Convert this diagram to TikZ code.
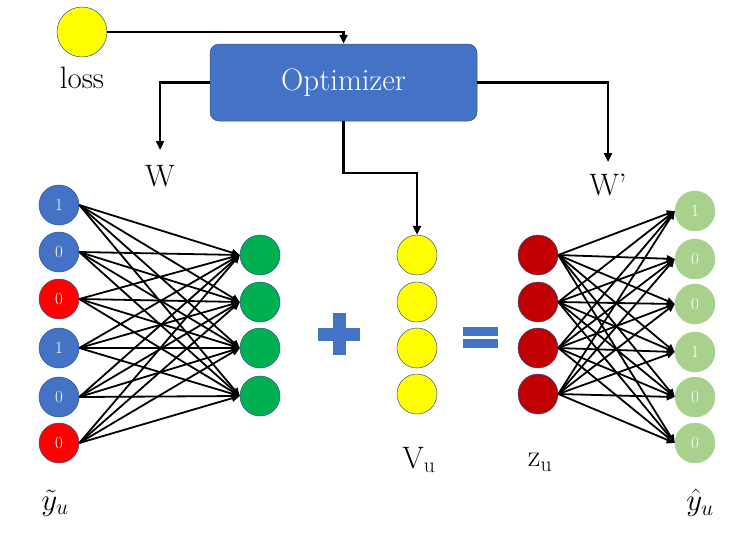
\RequirePackage{fix-cm}
\documentclass[tikz,border=0pt]{standalone}
\usepackage{xcolor}
\usepackage{tikz}
\usetikzlibrary{arrows.meta, positioning, calc}
\usepackage{amsmath}
\definecolor{NetBlue}{HTML}{4472C4}
\definecolor{EdgeBlue}{HTML}{2F528F}
\definecolor{InRed}{HTML}{FF0000}
\definecolor{DarkRed}{HTML}{C00000}
\definecolor{HidGreen}{HTML}{00B050}
\definecolor{OutGreen}{HTML}{A9D18E}
\definecolor{LossYellow}{HTML}{FFFF00}

\begin{document}
\begin{tikzpicture}[x=1pt, y=-1pt,
  unit/.style={circle, draw=EdgeBlue, line width=0.5pt, minimum size=40pt,
    inner sep=0pt, text=white, font=\fontsize{17}{17}\selectfont},
  optbox/.style={rectangle, rounded corners=9pt, fill=NetBlue, draw=EdgeBlue,
    line width=0.5pt, minimum width=267pt, minimum height=77pt, text=white,
    font=\fontsize{31}{31}\selectfont},
  lbl/.style={font=\fontsize{31}{31}\selectfont},
  flow/.style={line width=2.3pt, -{Triangle[length=9pt,width=8pt]}},
  wire/.style={line width=1.8pt, -{Triangle[length=8pt,width=7pt]}}
]
\useasboundingbox (0,0) rectangle (736,539);

% Loss and optimizer
\node[unit, fill=LossYellow, minimum size=50pt] (loss) at (82,32) {};
\node[lbl] (losslbl) at (82,78) {loss};
\node[optbox] (opt) at (343.5,82.5) {Optimizer};

% Input layer
\node[unit, fill=NetBlue] (in1) at (59,205) {1};
\node[unit, fill=NetBlue] (in2) at (59,252) {0};
\node[unit, fill=InRed]   (in3) at (59,299) {0};
\node[unit, fill=NetBlue] (in4) at (59,348) {1};
\node[unit, fill=NetBlue] (in5) at (59,397) {0};
\node[unit, fill=InRed]   (in6) at (59,443) {0};

% Hidden layer
\node[unit, fill=HidGreen] (hid1) at (260,255) {};
\node[unit, fill=HidGreen] (hid2) at (260,302) {};
\node[unit, fill=HidGreen] (hid3) at (260,348) {};
\node[unit, fill=HidGreen] (hid4) at (260,396) {};

% User vector
\node[unit, fill=LossYellow] (vu1) at (417,255) {};
\node[unit, fill=LossYellow] (vu2) at (417,302) {};
\node[unit, fill=LossYellow] (vu3) at (417,348) {};
\node[unit, fill=LossYellow] (vu4) at (417,394) {};

% Latent layer
\node[unit, fill=DarkRed] (z1) at (538,255) {};
\node[unit, fill=DarkRed] (z2) at (538,302) {};
\node[unit, fill=DarkRed] (z3) at (538,348) {};
\node[unit, fill=DarkRed] (z4) at (538,394) {};

% Output layer
\node[unit, fill=OutGreen, draw=OutGreen] (out1) at (695,211) {1};
\node[unit, fill=OutGreen, draw=OutGreen] (out2) at (695,259) {0};
\node[unit, fill=OutGreen, draw=OutGreen] (out3) at (695,304) {0};
\node[unit, fill=OutGreen, draw=OutGreen] (out4) at (695,352) {1};
\node[unit, fill=OutGreen, draw=OutGreen] (out5) at (695,397) {0};
\node[unit, fill=OutGreen, draw=OutGreen] (out6) at (695,443) {0};

% Plus and equals signs
\fill[NetBlue] (318,328) rectangle (360,341);
\fill[NetBlue] (333,313) rectangle (346,355);
\fill[NetBlue] (463,327) rectangle (498,336);
\fill[NetBlue] (463,339) rectangle (498,348);

% Labels
\coordinate (wtip)  at (160,150);
\coordinate (wptip) at (608,162);
\node[lbl] (wlbl)  at (160,176) {W};
\node[lbl] (wplbl) at (608,185) {W'};
\node[lbl] (vulbl) at (419,460) {V$_{\mathrm{u}}$};
\node[lbl] (zlbl)  at (540,462) {z$_{\mathrm{u}}$};
\node[lbl] (ytlbl) at (55,503) {$\tilde{y}_u$};
\node[lbl] (yhlbl) at (700,503) {$\hat{y}_u$};

% Optimizer connections
\draw[flow] (loss.east) -| (opt.north);
\draw[flow] (opt.west) -| (wtip);
\draw[flow] (opt.south) -- ++(0,52) -| (vu1.north);
\draw[flow] (opt.east) -| (wptip);

% Encoder weights
\foreach \i in {1,...,6}
  \foreach \j in {1,...,4}
    \draw[wire] (in\i.east) -- (hid\j.west);

% Decoder weights
\foreach \i in {1,...,4}
  \foreach \j in {1,...,6}
    \draw[wire] (z\i.east) -- (out\j.west);

\end{tikzpicture}
\end{document}
